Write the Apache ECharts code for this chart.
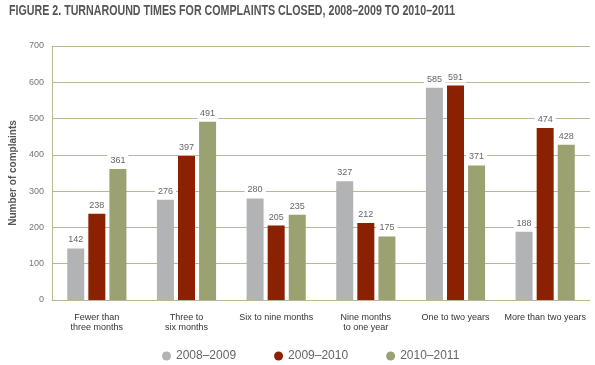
<!DOCTYPE html>
<html><head><meta charset="utf-8">
<script src="https://cdn.jsdelivr.net/npm/echarts@6/dist/echarts.min.js"></script>
<style>html,body{margin:0;padding:0;background:#fff}#c{width:595px;height:365px}</style>
</head><body><div id="c"></div>
<script>
const categories = ['Fewer than\nthree months','Three to\nsix months','Six to nine months','Nine months\nto one year','One to two years','More than two years'];
const seriesNames = ['2008–2009','2009–2010','2010–2011'];
const s2008 = [142, 276, 280, 327, 585, 188];
const s2009 = [238, 397, 205, 212, 591, 474];
const s2010 = [361, 491, 235, 175, 371, 428];
const titleText = 'FIGURE 2. TURNAROUND TIMES FOR COMPLAINTS CLOSED, 2008–2009 TO 2010–2011';
const colors = ['#b1b3b4', '#8b2100', '#9ba170'];
const gridColor = '#b9b991';

const chart = echarts.init(document.getElementById('c'), null, {renderer:'canvas'});
const mk = (name, data, i) => ({
  name, type:'bar', data, barWidth: 17, barGap: '24%',
  itemStyle:{color: colors[i]},
  label:{show:true, position:'top', distance:3, color:'#666', fontSize:9, fontFamily:'Liberation Sans, sans-serif',
    backgroundColor:'#fff', padding:[1,3]},
  emphasis:{disabled:true}
});
chart.setOption({
  animation:false,
  graphic:[{type:'text', left:9, top:4, scaleX:0.762, scaleY:1, originX:0,
    style:{text:titleText, font:'bold 14px "Liberation Sans", sans-serif', fill:'#555'}}],
  legend:{top:345, left:157, itemGap:38, icon:'circle', itemWidth:9, itemHeight:9,
    textStyle:{color:'#666', fontSize:12, fontFamily:'Liberation Sans, sans-serif'}, data:seriesNames},
  grid:{left:52, right:5, top:46, bottom:65, containLabel:false},
  xAxis:{type:'category', data:categories,
    axisLine:{lineStyle:{color:gridColor}}, axisTick:{show:false},
    axisLabel:{color:'#333', fontSize:9, lineHeight:10, margin:13, interval:0, fontFamily:'Liberation Sans, sans-serif'}},
  yAxis:{type:'value', min:0, max:700, interval:100,
    name:'Number of complaints', nameLocation:'middle', nameGap:30, nameRotate:90,
    nameTextStyle:{color:'#555', fontSize:10, fontWeight:'bold', fontFamily:'Liberation Sans, sans-serif'},
    axisLine:{show:true, lineStyle:{color:gridColor}}, axisTick:{show:false},
    axisLabel:{color:'#777', fontSize:9, margin:8, fontFamily:'Liberation Sans, sans-serif'},
    splitLine:{lineStyle:{color:gridColor}}},
  series:[mk(seriesNames[0], s2008, 0), mk(seriesNames[1], s2009, 1), mk(seriesNames[2], s2010, 2)]
});
</script></body></html>
